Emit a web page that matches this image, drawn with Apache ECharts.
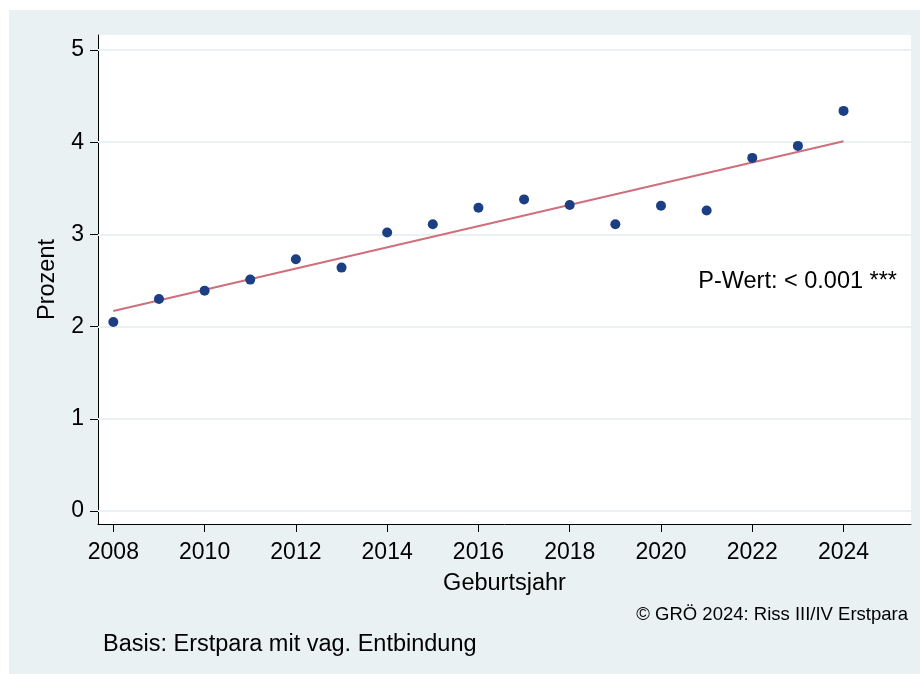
<!DOCTYPE html>
<html>
<head>
<meta charset="utf-8">
<script src="https://cdn.jsdelivr.net/npm/echarts@6/dist/echarts.min.js"></script>
<style>
  html, body { margin: 0; padding: 0; background: #fff; }
  #chart { width: 920px; height: 674px; }
</style>
</head>
<body>
<div id="chart"></div>
<script>
// Daten
const years = [2008, 2009, 2010, 2011, 2012, 2013, 2014, 2015, 2016, 2017, 2018, 2019, 2020, 2021, 2022, 2023, 2024];
const prozent = [2.05, 2.30, 2.39, 2.51, 2.73, 2.64, 3.02, 3.11, 3.29, 3.38, 3.32, 3.11, 3.31, 3.26, 3.83, 3.96, 4.34];
const fitYears = [2008, 2024];
const fitValues = [2.17, 4.01];
const xTicks = [2008, 2010, 2012, 2014, 2016, 2018, 2020, 2022, 2024];
const yTicks = [0, 1, 2, 3, 4, 5];

const FONT = '"Liberation Sans", Arial, sans-serif';
const PANEL = '#eaf1f3';
const DOT = '#1c3f84';
const FIT = '#cf6f7b';
const INK = '#000';

const chart = echarts.init(document.getElementById('chart'));

chart.setOption({
    backgroundColor: '#fff',
    animation: false,
    textStyle: { fontFamily: FONT },
    graphic: [
        { type: 'rect', z: -10, shape: { x: 9, y: 10, width: 911, height: 664 }, style: { fill: PANEL } },
        { type: 'text', right: 23, top: 270, z: 20, style: { text: 'P-Wert: < 0.001 ***', fontSize: 23.5, fontFamily: FONT, fill: INK } },
        { type: 'text', right: 12, top: 605, style: { text: '\u00a9 GR\u00d6 2024: Riss III/IV Erstpara', fontSize: 18.5, fontFamily: FONT, fill: INK } },
        { type: 'text', left: 103, top: 633, style: { text: 'Basis: Erstpara mit vag. Entbindung', fontSize: 23.5, fontFamily: FONT, fill: INK } }
    ],
    grid: { left: 98, right: 9, top: 35, bottom: 150, show: true, backgroundColor: '#fff', borderWidth: 0 },
    xAxis: {
        type: 'value', min: 2007.664, max: 2025.478,
        name: 'Geburtsjahr', nameLocation: 'middle', nameGap: 48,
        nameTextStyle: { fontSize: 23.5, color: INK, fontFamily: FONT },
        axisLine: { show: true, onZero: false, lineStyle: { color: INK, width: 1 } },
        axisTick: { show: true, length: 8, customValues: xTicks, lineStyle: { color: INK } },
        axisLabel: { customValues: xTicks, fontSize: 23, color: INK, margin: 17, formatter: v => String(v) },
        splitLine: { show: false }
    },
    yAxis: {
        type: 'value', min: -0.141, max: 5.163,
        name: 'Prozent', nameLocation: 'middle', nameGap: 38,
        nameTextStyle: { fontSize: 23.5, color: INK, fontFamily: FONT },
        axisLine: { show: true, onZero: false, lineStyle: { color: INK, width: 1 } },
        axisTick: { show: true, length: 8, customValues: yTicks, lineStyle: { color: INK } },
        axisLabel: { customValues: yTicks, fontSize: 23, color: INK, margin: 14, formatter: v => String(v) },
        splitLine: { show: false }
    },
    series: [
        {
            type: 'line', data: [], z: 1, silent: true,
            markLine: {
                z: 1, silent: true, symbol: 'none', animation: false,
                lineStyle: { color: PANEL, width: 2, type: 'solid' },
                label: { show: false },
                emphasis: { disabled: true },
                data: yTicks.map(v => ({ yAxis: v }))
            }
        },
        {
            name: 'Fit', type: 'line', z: 10, symbol: 'none',
            data: fitYears.map((y, i) => [y, fitValues[i]]),
            lineStyle: { color: FIT, width: 2 }
        },
        {
            name: 'Prozent', type: 'scatter', z: 11, symbolSize: 10,
            data: years.map((y, i) => [y, prozent[i]]),
            itemStyle: { color: DOT, opacity: 1 }
        }
    ]
});
</script>
</body>
</html>
